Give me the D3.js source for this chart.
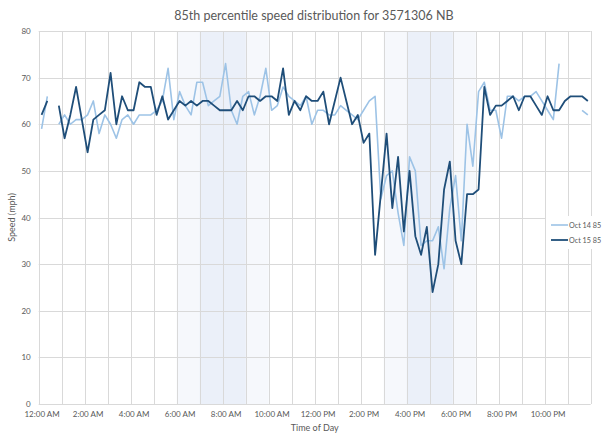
<!DOCTYPE html>
<html>
<head>
<meta charset="utf-8">
<script src="https://cdn.jsdelivr.net/npm/d3@7"></script>
<style>
  html, body { margin: 0; padding: 0; background: #ffffff; }
  svg { display: block; font-family: Lato, "Open Sans", sans-serif; }
</style>
</head>
<body>
<svg id="chart" width="603" height="434"></svg>
<script>
// 15-minute slots across the day (index 0 = 12:00 AM)
const slotCount = 96;

// 85th percentile speed per 15-minute slot (mph); null = no reading
const oct14 = [
  59, 66, null, 60, 62, 60, 61, 61, 62, 65, 58, 62, 60, 57, 61, 62,
  60, 62, 62, 62, 63, 65, 72, 61, 67, 64, 62, 69, 69, 64, 65, 66,
  73, 63, 60, 66, 67, 62, 66, 72, 63, 64, 68, 66, 65, 64, 66, 60,
  63, 63, 62, 62, 64, 63, 62, 61, 63, 65, 66, 44, 49, 50, 41, 34,
  53, 50, 34, 35, 35, 38, 29, 42, 49, 35, 60, 51, 67, 69, 63, 63,
  57, 66, 66, 65, 66, 66, 67, 65, 63, 61, 73, null, null, null, 63, 62
];
const oct15 = [
  62, 65, null, 64, 57, 62, 68, 61, 54, 61, 62, 63, 71, 60, 66, 63,
  63, 69, 68, 68, 62, 66, 61, 63, 65, 64, 65, 64, 65, 65, 64, 63,
  63, 63, 65, 63, 66, 66, 65, 66, 66, 65, 72, 62, 65, 63, 66, 65,
  65, 67, 60, 65, 70, 65, 60, 62, 56, 58, 32, 45, 58, 42, 53, 37,
  50, 36, 32, 38, 24, 30, 46, 52, 35, 30, 45, 45, 46, 68, 62, 64,
  64, 65, 66, 63, 66, 66, 64, 62, 66, 63, 63, 65, 66, 66, 66, 65
];

const seriesNames = ["Oct 14 85", "Oct 15 85"];
const seriesColors = ["#9dc3e6", "#1f4e79"];

// x-axis labels every two hours
const tickHours = [0, 2, 4, 6, 8, 10, 12, 14, 16, 18, 20, 22];
const tickLabels = ["12:00 AM", "2:00 AM", "4:00 AM", "6:00 AM", "8:00 AM", "10:00 AM",
                    "12:00 PM", "2:00 PM", "4:00 PM", "6:00 PM", "8:00 PM", "10:00 PM"];
const yTicks = [0, 10, 20, 30, 40, 50, 60, 70, 80];

// peak periods (hours): outer window and inner core
const peakOuter = [[6, 10], [15, 19]];
const peakInner = [[7, 9], [16, 18]];

const svg = d3.select("#chart");
const plot = { left: 38.7, right: 590.7, top: 31, bottom: 404 };

const x = d3.scaleLinear().domain([0, 24]).range([plot.left, plot.right]);
const y = d3.scaleLinear().domain([0, 80]).range([plot.bottom, plot.top]);
const slotHour = i => (i + 0.5) / 4;

// shaded peak windows
svg.append("g").selectAll("rect.outer").data(peakOuter).join("rect")
  .attr("x", d => x(d[0])).attr("width", d => x(d[1]) - x(d[0]))
  .attr("y", plot.top).attr("height", plot.bottom - plot.top)
  .attr("fill", "#f6f8fc");
svg.append("g").selectAll("rect.inner").data(peakInner).join("rect")
  .attr("x", d => x(d[0])).attr("width", d => x(d[1]) - x(d[0]))
  .attr("y", plot.top).attr("height", plot.bottom - plot.top)
  .attr("fill", "#ebf0f9");

// gridlines
const grid = svg.append("g").attr("stroke", "#d9d9d9").attr("stroke-width", 1);
grid.selectAll("line.h").data(yTicks).join("line")
  .attr("x1", plot.left).attr("x2", plot.right)
  .attr("y1", d => Math.round(y(d)) + 0.5).attr("y2", d => Math.round(y(d)) + 0.5);
grid.selectAll("line.v").data(d3.range(0, 25)).join("line")
  .attr("x1", d => Math.round(x(d)) + 0.5).attr("x2", d => Math.round(x(d)) + 0.5)
  .attr("y1", plot.top).attr("y2", plot.bottom);

// y axis labels
const yAxis = d3.axisLeft(y).tickValues(yTicks).tickSize(0).tickPadding(8);
const gy = svg.append("g").attr("transform", `translate(${plot.left},0)`).call(yAxis);
gy.select(".domain").remove();
gy.selectAll("text").attr("fill", "#595959").attr("font-size", 8).attr("font-family", "Lato, sans-serif");

// x axis labels
const xAxis = d3.axisBottom(x).tickValues(tickHours.map(h => h + 0.125))
  .tickFormat((d, i) => tickLabels[i]).tickSize(0).tickPadding(7);
const gx = svg.append("g").attr("transform", `translate(0,${plot.bottom})`).call(xAxis);
gx.select(".domain").remove();
gx.selectAll("text").attr("fill", "#595959").attr("font-size", 8).attr("font-family", "Lato, sans-serif");

// axis titles and chart title
svg.append("text").attr("x", 314).attr("y", 20).attr("text-anchor", "middle")
  .attr("fill", "#595959").attr("font-size", 12.5).text("85th percentile speed distribution for 3571306 NB");
svg.append("text").attr("x", (plot.left + plot.right) / 2).attr("y", 431).attr("text-anchor", "middle")
  .attr("fill", "#595959").attr("font-size", 9).text("Time of Day");
svg.append("text").attr("transform", `translate(15,${(plot.top + plot.bottom) / 2}) rotate(-90)`)
  .attr("text-anchor", "middle").attr("fill", "#595959").attr("font-size", 9).text("Speed (mph)");

// series lines
const line = d3.line()
  .defined(d => d != null)
  .x((d, i) => x(slotHour(i)))
  .y(d => y(d));

[oct14, oct15].forEach((vals, k) => {
  svg.append("path").datum(vals)
    .attr("fill", "none")
    .attr("stroke", seriesColors[k])
    .attr("stroke-width", k === 0 ? 1.6 : 1.8)
    .attr("stroke-linejoin", "round")
    .attr("d", line);
});

// legend
const legend = svg.append("g").attr("transform", "translate(546,216)");
legend.append("rect").attr("x", 0).attr("y", 0).attr("width", 60).attr("height", 33).attr("fill", "#ffffff");
seriesNames.forEach((name, k) => {
  const ly = 9 + k * 15;
  legend.append("line").attr("x1", 5).attr("x2", 22).attr("y1", ly).attr("y2", ly)
    .attr("stroke", seriesColors[k]).attr("stroke-width", k === 0 ? 1.6 : 1.8);
  legend.append("text").attr("x", 23).attr("y", ly + 3).attr("fill", "#595959")
    .attr("font-size", 7.2).text(name);
});
</script>
</body>
</html>
